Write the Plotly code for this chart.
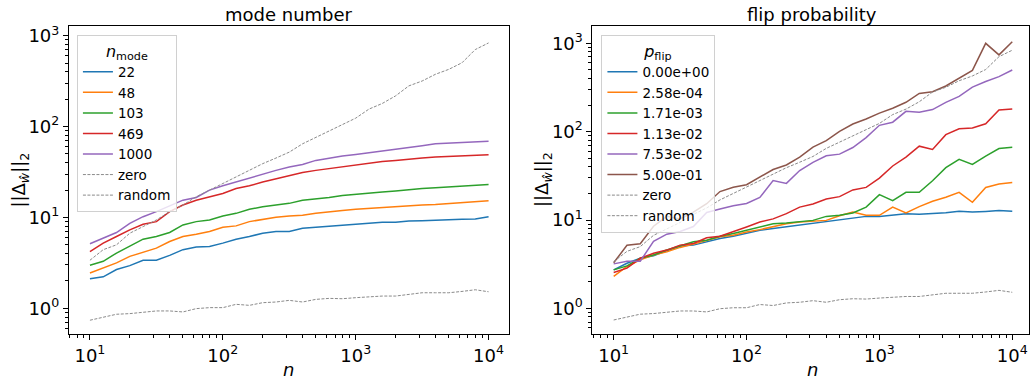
import plotly.graph_objects as go

n = [10, 12.59, 15.85, 19.95, 25.12, 31.62, 39.81, 50.12, 63.1, 79.43,
     100, 125.9, 158.5, 199.5, 251.2, 316.2, 398.1, 501.2, 631.0, 794.3,
     1000, 1259, 1585, 1995, 2512, 3162, 3981, 5012, 6310, 7943, 10000]

# left panel: mode number
mode_labels = ["22", "48", "103", "469", "1000"]
mode_22 = [2.11, 2.22, 2.67, 2.95, 3.38, 3.38, 3.83, 4.42, 4.72, 4.80, 5.22, 5.77, 6.17, 6.71, 7.00, 7.00,
           7.61, 7.81, 8.08, 8.28, 8.49, 8.63, 8.85, 8.85, 9.16, 9.23, 9.39, 9.39, 9.55, 9.63, 10.2]
mode_48 = [2.45, 2.78, 3.16, 3.73, 4.13, 4.60, 5.44, 6.18, 6.55, 7.00, 7.81, 8.08, 9.00, 9.55, 10.04, 10.4,
           10.6, 11.1, 11.4, 11.9, 12.3, 12.6, 12.9, 13.1, 13.4, 13.7, 13.9, 14.3, 14.5, 14.9, 15.3]
mode_103 = [2.98, 3.29, 4.06, 4.80, 5.77, 6.17, 6.83, 8.28, 9.00, 9.39, 10.4, 11.1, 12.3, 13.1, 13.7, 14.3,
            15.5, 15.9, 16.6, 17.5, 18.1, 18.7, 19.1, 19.6, 20.3, 20.8, 21.2, 21.7, 22.1, 22.5, 23.0]
mode_469 = [4.20, 5.22, 6.17, 7.30, 8.42, 9.00, 11.6, 13.7, 15.5, 16.9, 18.4, 20.8, 22.3, 24.6, 26.8, 29.1,
            31.2, 33.0, 34.5, 36.5, 38.4, 39.7, 41.4, 42.5, 44.0, 45.1, 46.2, 47.0, 47.8, 48.2, 49.0]
mode_1000 = [5.13, 5.92, 6.83, 8.63, 10.2, 11.6, 13.4, 15.5, 16.6, 20.0, 22.3, 24.6, 27.5, 30.4, 33.0, 35.9,
             38.4, 42.5, 45.1, 47.4, 49.4, 51.5, 54.7, 57.0, 59.4, 61.5, 64.7, 65.8, 67.4, 69.2, 69.2]

# baselines (shared by both panels)
zero = [3.38, 4.42, 5.00, 6.71, 7.94, 9.39, 11.6, 13.7, 16.9, 20.0, 23.2, 27.5, 33.0, 39.1, 45.1, 52.4,
        64.7, 76.4, 90.4, 107, 124, 156, 180, 218, 281, 318, 377, 427, 505, 706, 835]
random_ = [0.739, 0.791, 0.860, 0.874, 0.897, 0.935, 0.935, 0.912, 0.992, 1.017, 1.017, 1.106, 1.078, 1.153,
           1.173, 1.223, 1.173, 1.254, 1.286, 1.275, 1.309, 1.342, 1.364, 1.364, 1.422, 1.483, 1.483, 1.483,
           1.534, 1.600, 1.521]

# right panel: flip probability
flip_labels = ["0.00e+00", "2.58e-04", "1.71e-03", "1.13e-02", "7.53e-02", "5.00e-01"]
flip_0 = [2.73, 3.24, 3.69, 3.95, 4.50, 5.07, 5.20, 5.67, 6.18, 6.56, 7.15, 7.66, 8.00, 8.35, 8.71, 9.25,
          9.66, 9.91, 10.5, 11.0, 11.0, 11.3, 11.8, 11.6, 11.8, 12.1, 12.6, 12.3, 12.5, 12.8, 12.6]
flip_1 = [2.30, 2.98, 3.54, 4.02, 4.38, 4.90, 5.34, 5.92, 6.45, 6.73, 7.34, 7.79, 8.35, 9.10, 9.50, 9.75,
          9.91, 11.2, 12.3, 11.3, 11.3, 14.0, 12.0, 14.2, 16.3, 18.1, 20.6, 15.9, 23.4, 25.5, 26.6]
flip_2 = [2.73, 3.03, 3.69, 4.02, 4.57, 5.07, 5.67, 5.92, 6.56, 7.03, 7.66, 8.20, 9.10, 9.25, 9.50, 9.91,
          11.0, 11.3, 12.0, 14.0, 19.4, 16.6, 20.6, 20.6, 27.8, 39.2, 48.6, 42.7, 52.9, 64.5, 66.8]
flip_3 = [2.55, 2.85, 3.69, 4.20, 4.57, 5.20, 5.43, 6.29, 6.56, 7.34, 8.35, 9.50, 10.3, 11.8, 14.0, 15.2,
          17.3, 18.4, 21.9, 23.4, 29.8, 40.9, 51.6, 68.5, 62.9, 92.5, 108, 110, 123, 176, 181]
flip_4 = [3.19, 3.42, 3.42, 5.73, 6.92, 7.42, 8.44, 12.2, 13.3, 14.5, 15.4, 18.0, 28.0, 26.0, 36.3, 45.0,
          53.4, 55.7, 66.2, 85.7, 118, 128, 170, 166, 178, 215, 251, 319, 369, 420, 499]
flip_5 = [3.28, 5.18, 5.40, 8.5, 11.0, 10.3, 12.3, 15.3, 21.0, 23.5, 25.1, 30.7, 37.3, 42.0, 51.5, 66.8,
          79.3, 101, 122, 139, 162, 184, 215, 271, 283, 329, 405, 494, 1000, 740, 1044]

colors = ["#1f77b4", "#ff7f0e", "#2ca02c", "#d62728", "#9467bd", "#8c564b"]
gray = "#8a8a8a"

fig = go.Figure()

for lab, ys, c in zip(mode_labels, [mode_22, mode_48, mode_103, mode_469, mode_1000], colors):
    fig.add_trace(go.Scatter(x=n, y=ys, mode="lines", name=lab, line=dict(color=c, width=1.5),
                             xaxis="x", yaxis="y", legend="legend"))
for lab, ys in [("zero", zero), ("random", random_)]:
    fig.add_trace(go.Scatter(x=n, y=ys, mode="lines", name=lab,
                             line=dict(color=gray, width=1, dash="3px,1.5px"),
                             xaxis="x", yaxis="y", legend="legend"))

for lab, ys, c in zip(flip_labels, [flip_0, flip_1, flip_2, flip_3, flip_4, flip_5], colors):
    fig.add_trace(go.Scatter(x=n, y=ys, mode="lines", name=lab, line=dict(color=c, width=1.5),
                             xaxis="x2", yaxis="y2", legend="legend2"))
for lab, ys in [("zero", zero), ("random", random_)]:
    fig.add_trace(go.Scatter(x=n, y=ys, mode="lines", name=lab,
                             line=dict(color=gray, width=1, dash="3px,1.5px"),
                             xaxis="x2", yaxis="y2", legend="legend2"))

W, H = 1030, 381
font = "DejaVu Sans"
FS = 18      # ticks, titles, axis labels
LFS = 13.5   # legend entries
LTFS = 16    # legend title

def px_x(p):
    return p / W

def px_y(p):
    return (H - p) / H

xt_vals = [10, 100, 1000, 10000]
xt_text = ["10<sup>1</sup>", "10<sup>2</sup>", "10<sup>3</sup>", "10<sup>4</sup>"]
yt_vals = [1, 10, 100, 1000]
yt_text = ["10<sup>0</sup>", "10<sup>1</sup>", "10<sup>2</sup>", "10<sup>3</sup>"]

axis_common = dict(type="log", showline=True, linecolor="black", linewidth=1, mirror=True,
                   ticks="outside", ticklen=5, tickwidth=1, tickcolor="black", showgrid=False,
                   zeroline=False, tickfont=dict(family=font, size=FS, color="black"),
                   minor=dict(ticks="outside", ticklen=3, tickwidth=0.8, tickcolor="black",
                              dtick="D1", showgrid=False))

ydom = [px_y(334), px_y(23)]

def legend_box(x_px, title):
    return dict(x=px_x(x_px), y=px_y(32), xanchor="left", yanchor="top",
                bgcolor="rgba(255,255,255,0.8)", bordercolor="#d0d0d0", borderwidth=1,
                font=dict(family=font, size=LFS), itemwidth=30, tracegroupgap=0,
                title=dict(text=title, side="top center", font=dict(family=font, size=LTFS)))

fig.update_layout(
    width=W, height=H, margin=dict(l=0, r=0, t=0, b=0),
    paper_bgcolor="white", plot_bgcolor="white",
    font=dict(family=font, size=FS, color="black"),
    xaxis=dict(domain=[px_x(69), px_x(509)], range=[0.842, 4.150], tickmode="array",
               tickvals=xt_vals, ticktext=xt_text, anchor="y", **axis_common),
    yaxis=dict(domain=ydom, range=[-0.287, 3.11], tickmode="array",
               tickvals=yt_vals, ticktext=yt_text, anchor="x", **axis_common),
    xaxis2=dict(domain=[px_x(593), 1.0], range=[0.84, 4.126], tickmode="array",
                tickvals=xt_vals, ticktext=xt_text, anchor="y2", **axis_common),
    yaxis2=dict(domain=ydom, range=[-0.294, 3.198], tickmode="array",
                tickvals=yt_vals, ticktext=yt_text, anchor="x2", **axis_common),
    legend=legend_box(77, "<i>n</i><sub>mode</sub>"),
    legend2=legend_box(602, "<i>p</i><sub>flip</sub>"),
    showlegend=True,
    annotations=[
        dict(text="mode number", x=px_x(289), y=px_y(12), xref="paper", yref="paper",
             showarrow=False, xanchor="center", yanchor="middle", font=dict(size=FS)),
        dict(text="flip probability", x=px_x(813), y=px_y(12), xref="paper", yref="paper",
             showarrow=False, xanchor="center", yanchor="middle", font=dict(size=FS)),
        dict(text="<i>n</i>", x=px_x(289), y=px_y(369), xref="paper", yref="paper",
             showarrow=False, xanchor="center", yanchor="middle", font=dict(size=FS)),
        dict(text="<i>n</i>", x=px_x(813), y=px_y(369), xref="paper", yref="paper",
             showarrow=False, xanchor="center", yanchor="middle", font=dict(size=FS)),
        dict(text="||Δ<sub><i>ŵ</i></sub>||<sub>2</sub>", x=px_x(20), y=px_y(178), xref="paper",
             yref="paper", showarrow=False, textangle=-90, xanchor="center", yanchor="middle",
             font=dict(size=FS)),
        dict(text="||Δ<sub><i>ŵ</i></sub>||<sub>2</sub>", x=px_x(543), y=px_y(178), xref="paper",
             yref="paper", showarrow=False, textangle=-90, xanchor="center", yanchor="middle",
             font=dict(size=FS)),
    ],
)

fig.write_html("out.html")
